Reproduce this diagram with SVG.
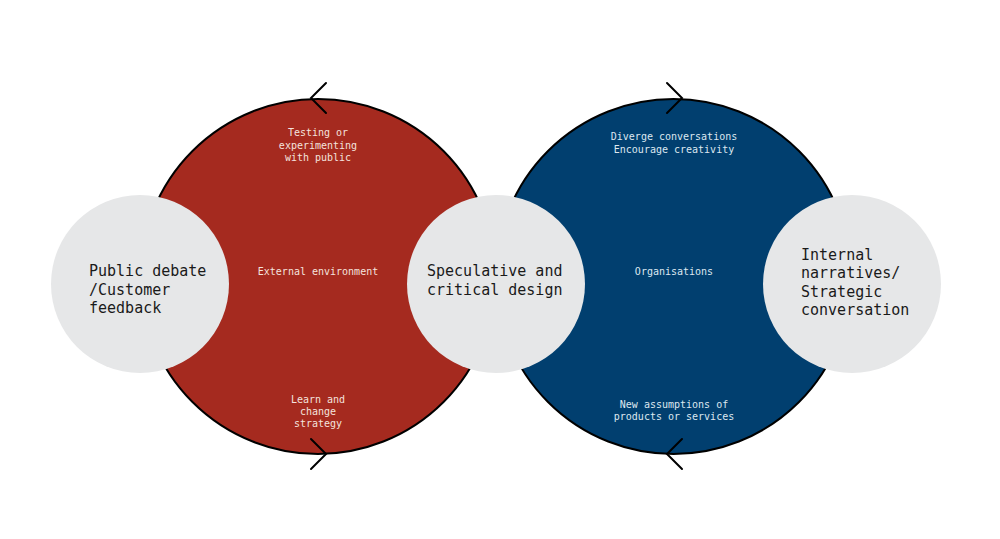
<svg xmlns="http://www.w3.org/2000/svg" width="1000" height="539" viewBox="0 0 1000 539">
<style>
.big{stroke:#000;stroke-width:2}
.node{fill:#E6E7E8}
.nt{font-family:"DejaVu Sans Mono","Liberation Mono",monospace;font-size:15px;fill:#1a1a1a}
.st{font-family:"DejaVu Sans Mono","Liberation Mono",monospace;font-size:10px;text-anchor:middle}
.sr{fill:#F4E2DE}
.sb{fill:#DDE7F0}
.arr{fill:none;stroke:#000;stroke-width:2;stroke-linecap:round;stroke-linejoin:miter}
</style>
<rect width="1000" height="539" fill="#fff"/>
<g id="loop-external">
<circle class="big" cx="318" cy="276.5" r="177.5" fill="#A52A1F"/>
<text class="st sr" x="318" y="275">External environment</text>
<text class="st sr" x="318" y="136">Testing or</text>
<text class="st sr" x="318" y="148.5">experimenting</text>
<text class="st sr" x="318" y="161">with public</text>
<text class="st sr" x="318" y="403">Learn and</text>
<text class="st sr" x="318" y="415">change</text>
<text class="st sr" x="318" y="427">strategy</text>
</g>
<g id="loop-organisations">
<circle class="big" cx="673.5" cy="276.5" r="177.5" fill="#013F6F"/>
<text class="st sb" x="674" y="275">Organisations</text>
<text class="st sb" x="674" y="140">Diverge conversations</text>
<text class="st sb" x="674" y="152.5">Encourage creativity</text>
<text class="st sb" x="674" y="407.5">New assumptions of</text>
<text class="st sb" x="674" y="419.5">products or services</text>
</g>
<g id="connectors">
<polyline class="arr" points="326,83 311,98 326,113"/>
<polyline class="arr" points="667,83 682,98 667,113"/>
<polyline class="arr" points="311,439 326,454 311,469"/>
<polyline class="arr" points="682,439 667,454 682,469"/>
</g>
<g id="node-public">
<circle class="node" cx="140" cy="284" r="89"/>
<text class="nt" x="89" y="276">Public debate</text>
<text class="nt" x="89" y="294.5">/Customer</text>
<text class="nt" x="89" y="313">feedback</text>
</g>
<g id="node-speculative">
<circle class="node" cx="496" cy="284" r="89"/>
<text class="nt" x="427" y="276">Speculative and</text>
<text class="nt" x="427" y="294.5">critical design</text>
</g>
<g id="node-internal">
<circle class="node" cx="852" cy="284" r="89"/>
<text class="nt" x="801" y="260">Internal</text>
<text class="nt" x="801" y="278.3">narratives/</text>
<text class="nt" x="801" y="296.6">Strategic</text>
<text class="nt" x="801" y="315">conversation</text>
</g>
</svg>
